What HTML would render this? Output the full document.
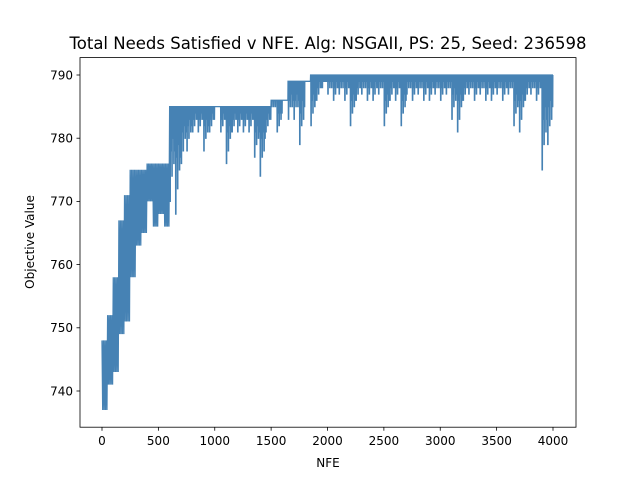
<!DOCTYPE html>
<html><head><meta charset="utf-8"><style>
body{margin:0;background:#fff}
svg{display:block;font-family:"DejaVu Sans","Liberation Sans",sans-serif}
</style></head><body>
<svg id="chart" width="640" height="480" viewBox="0 0 640 480">
<rect width="640" height="480" fill="#fff"/>
<text x="328" y="49" font-size="16.5" text-anchor="middle">Total Needs Satisfied v NFE. Alg: NSGAII, PS: 25, Seed: 236598</text>
<g id="plot"></g>
<rect x="80" y="57.6" width="496" height="369.6" fill="none" stroke="#000" stroke-width="0.8"/>
<g id="axes"></g>
<text x="328" y="467" font-size="12" text-anchor="middle">NFE</text>
<text x="34" y="242" font-size="12" text-anchor="middle" transform="rotate(-90 34 242)">Objective Value</text>
</svg>
<script>
const binStart = [0,50,100,150,200,250,300,350,400,450,500,550,600,650,700,750,800,850,900,950,1000,1050,1100,1150,1200,1250,1300,1350,1400,1450,1500,1550,1600,1650,1700,1750,1800,1850,1900,1950,2000,2050,2100,2150,2200,2250,2300,2350,2400,2450,2500,2550,2600,2650,2700,2750,2800,2850,2900,2950,3000,3050,3100,3150,3200,3250,3300,3350,3400,3450,3500,3550,3600,3650,3700,3750,3800,3850,3900,3950];
const binHigh = [748,752,758,767,771,775,775,775,776,776,776,776,785,785,785,785,785,785,785,785,785,785,785,785,785,785,785,785,785,785,786,786,786,789,789,789,789,790,790,790,790,790,790,790,790,790,790,790,790,790,790,790,790,790,790,790,790,790,790,790,790,790,790,790,790,790,790,790,790,790,790,790,790,790,790,790,790,790,790,790];
const binLow = [737,741,743,749,751,758,763,765,770,766,768,766,770,768,776,778,781,781,778,781,785,781,776,781,781,781,781,777,774,781,785,781,786,783,783,779,789,782,786,788,787,786,787,786,782,786,787,786,786,787,782,786,786,782,787,786,787,786,786,787,786,787,783,781,786,787,786,787,786,786,787,786,787,782,781,786,787,786,775,779];
const xTicks = [0,500,1000,1500,2000,2500,3000,3500,4000];
const yTicks = [740,750,760,770,780,790];
const binWidth = 50;

const NS='http://www.w3.org/2000/svg';
const sx = v => 102 + v*0.11275;
const sy = v => 391 - (v-740)*6.32;
const plot = document.getElementById('plot');
const axes = document.getElementById('axes');

let pts = [];
const P = (f,v) => pts.push(sx(f).toFixed(2)+','+sy(v).toFixed(2));
const depthFrac = [1, 0.5, 0.75, 0.35, 0.6, 0.45];
for (let i=0;i<binStart.length;i++){
  const hi = binHigh[i], lo = binLow[i], b = binStart[i];
  if (i < 12){
    const osc = 4;
    for (let k=0;k<osc;k++){
      P(b + binWidth*k/osc, hi);
      P(b + binWidth*(k+0.5)/osc, lo);
    }
  } else {
    const n = depthFrac.length;
    for (let k=0;k<n;k++){
      const f = b + binWidth*k/n;
      const d = Math.round(hi - (hi - lo)*depthFrac[k]);
      P(f, hi); P(f+2, hi); P(f+3, d); P(f+6, d); P(f+7, hi);
    }
  }
}
P(4000, binHigh[binHigh.length-1]);
const line = document.createElementNS(NS,'polyline');
line.setAttribute('points',pts.join(' '));
line.setAttribute('fill','none');
line.setAttribute('stroke','#4682b4');
line.setAttribute('stroke-width','1.3');


plot.appendChild(line);

xTicks.forEach(t=>{
  const x = sx(t);
  const l = document.createElementNS(NS,'line');
  l.setAttribute('x1',x);l.setAttribute('x2',x);l.setAttribute('y1',427.2);l.setAttribute('y2',430.7);
  l.setAttribute('stroke','#000');l.setAttribute('stroke-width','0.8');
  
  
  axes.appendChild(l);
  const tx = document.createElementNS(NS,'text');
  tx.setAttribute('x',x);tx.setAttribute('y',445);tx.setAttribute('font-size','12');tx.setAttribute('text-anchor','middle');
  tx.textContent = t;
  
  
  axes.appendChild(tx);
});
yTicks.forEach(t=>{
  const y = sy(t);
  const l = document.createElementNS(NS,'line');
  l.setAttribute('x1',76.5);l.setAttribute('x2',80);l.setAttribute('y1',y);l.setAttribute('y2',y);
  l.setAttribute('stroke','#000');l.setAttribute('stroke-width','0.8');
  
  
  axes.appendChild(l);
  const tx = document.createElementNS(NS,'text');
  tx.setAttribute('x',73);tx.setAttribute('y',y+4.3);tx.setAttribute('font-size','12');tx.setAttribute('text-anchor','end');
  tx.textContent = t;
  
  
  axes.appendChild(tx);
});
</script>
</body></html>
